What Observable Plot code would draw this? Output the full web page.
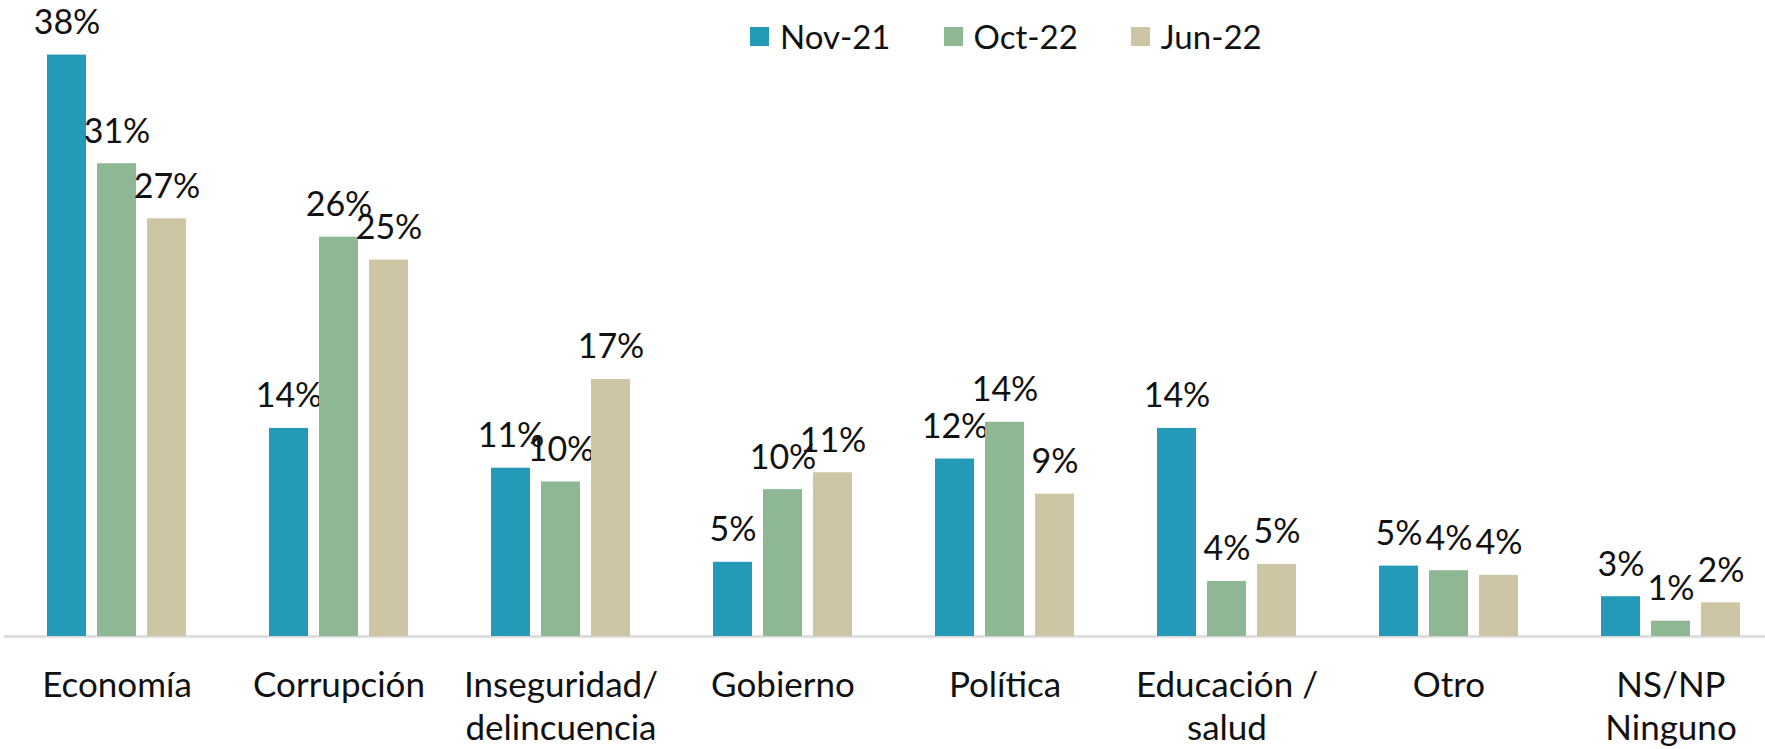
<!DOCTYPE html>
<html>
<head>
<meta charset="utf-8">
<script src="https://cdn.jsdelivr.net/npm/d3@7"></script>
<script src="https://cdn.jsdelivr.net/npm/@observablehq/plot@0.6"></script>
<style>
  html, body { margin: 0; padding: 0; background: #fff; overflow: hidden; }
  #wrap { position: relative; width: 1765px; height: 749px; font-family: Lato, "Open Sans", sans-serif; }
  #legend { position: absolute; left: 750px; top: 16px; display: flex; align-items: center; gap: 53px; font-size: 33px; color: #111; }
  #legend .item { display: flex; align-items: center; gap: 11px; }
  #legend .sw { width: 19px; height: 19px; display: inline-block; }
</style>
</head>
<body>
<div id="wrap"><div id="legend"></div></div>
<script>
const categories = ["Economía", "Corrupción", "Inseguridad/\ndelincuencia", "Gobierno", "Política", "Educación /\nsalud", "Otro", "NS/NP\nNinguno"];
const seriesNames = ["Nov-21", "Oct-22", "Jun-22"];
const seriesColors = ["#259ab8", "#8eb894", "#cdc5a4"];
const nov21 = [38, 13.6, 11.0, 4.85, 11.6, 13.6, 4.6, 2.6];
const oct22 = [30.9, 26.1, 10.1, 9.6, 14.0, 3.6, 4.3, 1.0];
const jun22 = [27.3, 24.6, 16.8, 10.7, 9.3, 4.7, 4.0, 2.2];

const seriesValues = [nov21, oct22, jun22];
const offsets = [-50, 0, 50];

const marks = [Plot.ruleY([0], {stroke: "#d9d9d9", strokeWidth: 2.5})];
seriesNames.forEach((name, s) => {
  const rows = categories.map((c, i) => ({category: c, value: seriesValues[s][i], series: name}));
  marks.push(Plot.barY(rows, {x: "category", y: "value", fill: seriesColors[s], dx: offsets[s]}));
  marks.push(Plot.text(rows, {x: "category", y: "value", dx: offsets[s], dy: -32,
    text: d => Math.round(d.value) + "%", fontSize: 34, fill: "#111"}));
});
marks.push(Plot.axisX({tickSize: 0, tickPadding: 30, fontSize: 35, lineHeight: 1.22, lineAnchor: "top", fill: "#111", label: null}));

const chart = Plot.plot({
  width: 1765,
  height: 749,
  marginTop: 24,
  marginBottom: 113,
  marginLeft: 4,
  marginRight: 0,
  style: {fontFamily: "Lato, 'Open Sans', sans-serif", background: "transparent", overflow: "visible"},
  x: {domain: categories, range: [95, 1692], paddingInner: 0.8225, paddingOuter: 0, axis: null},
  y: {domain: [0, 40], axis: null},
  marks
});
document.getElementById("wrap").appendChild(chart);

const legend = document.getElementById("legend");
seriesNames.forEach((name, s) => {
  const item = document.createElement("div");
  item.className = "item";
  const sw = document.createElement("span");
  sw.className = "sw";
  sw.style.background = seriesColors[s];
  const t = document.createElement("span");
  t.textContent = name;
  item.appendChild(sw); item.appendChild(t);
  legend.appendChild(item);
});
</script>
</body>
</html>
